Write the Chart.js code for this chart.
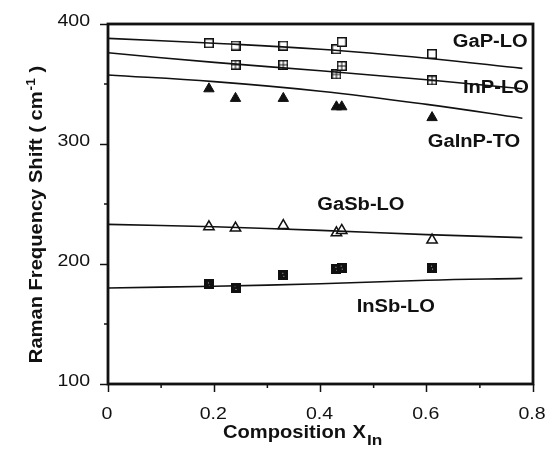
<!DOCTYPE html>
<html>
<head>
<meta charset="utf-8">
<script src="https://cdn.jsdelivr.net/npm/chart.js@4.4.1/dist/chart.umd.min.js"></script>
<style>
  html, body { margin: 0; padding: 0; background: #fff; }
  #wrap { width: 551px; height: 453px; }
</style>
</head>
<body>
<div id="wrap"><canvas id="ramanChart" width="551" height="453"></canvas></div>
<script>
// measured points (composition x, Raman shift in cm-1)
const gapX = [0.19, 0.24, 0.33, 0.43, 0.44, 0.61];
const gapY = [384, 382, 382, 379, 385, 375];
const inpX = [0.24, 0.33, 0.43, 0.44, 0.61];
const inpY = [366, 366, 358, 365, 353];
const gainpX = [0.19, 0.24, 0.33, 0.43, 0.44, 0.61];
const gainpY = [346, 338, 338, 331, 331, 322];
const gasbX = [0.19, 0.24, 0.33, 0.43, 0.44, 0.61];
const gasbY = [231, 230, 232, 226, 228, 220];
const insbX = [0.19, 0.24, 0.33, 0.43, 0.44, 0.61];
const insbY = [183, 180, 191, 196, 197, 197];

// calculated curves
const fitX = [0, 0.2, 0.4, 0.6, 0.78];
const gapFit = [388, 384, 379, 371.5, 363];
const inpFit = [376, 368, 361, 353.5, 346];
const gainpFit = [357.5, 352, 344, 333, 321.5];
const gasbFit = [233, 231, 228, 224.5, 222];
const insbFit = [180, 181.5, 183.5, 186.5, 188];

const seriesLabels = ["GaP-LO", "InP-LO", "GaInP-TO", "GaSb-LO", "InSb-LO"];
const xTicks = [0, 0.2, 0.4, 0.6, 0.8];
const yTicks = [100, 200, 300, 400];

const pts = (xs, ys) => xs.map((x, i) => ({ x: x, y: ys[i] }));

const FONT = "'Liberation Sans', Arial, sans-serif";
const STRETCH = 1.15;

// marker images
function makeMarker(kind) {
  const c = document.createElement("canvas");
  c.width = 10; c.height = 10;
  const g = c.getContext("2d");
  g.fillStyle = kind === "filled" ? "#111" : "#fff";
  g.fillRect(0.75, 0.75, 8.5, 8.5);
  g.strokeStyle = "#111";
  g.lineWidth = 1.5;
  g.strokeRect(0.75, 0.75, 8.5, 8.5);
  if (kind === "crossed") {
    g.lineWidth = 1;
    g.beginPath();
    g.moveTo(5, 1); g.lineTo(5, 9);
    g.moveTo(1, 5); g.lineTo(9, 5);
    g.stroke();
  }
  if (kind === "filled") {
    g.fillStyle = "#bbb";
    g.fillRect(4, 3, 1, 1);
    g.fillRect(5, 6, 1, 1);
  }
  return c;
}
const openSquare = makeMarker("open");
const crossSquare = makeMarker("crossed");
const fillSquare = makeMarker("filled");

function fitSet(ys) {
  return {
    data: pts(fitX, ys),
    showLine: true,
    borderColor: "#111",
    borderWidth: 1.6,
    pointRadius: 0,
    tension: 0.4,
    fill: false
  };
}

// text drawn a little wider than the font, like the printed original
function wideText(ctx, text, x, y, align, font) {
  ctx.save();
  ctx.font = font;
  ctx.textAlign = align;
  ctx.translate(x, y);
  ctx.scale(STRETCH, 1);
  ctx.fillText(text, 0, 0);
  ctx.restore();
}
function wideWidth(ctx, text, font) {
  ctx.font = font;
  return ctx.measureText(text).width * STRETCH;
}

// tick labels, axis titles, curve labels, minor ticks and frame
const decorations = {
  id: "decorations",
  afterDraw(chart) {
    const ctx = chart.ctx;
    const xs = chart.scales.x, ys = chart.scales.y;
    const a = chart.chartArea;
    ctx.save();
    ctx.strokeStyle = "#111";
    ctx.fillStyle = "#111";

    // minor ticks
    ctx.lineWidth = 1.5;
    ctx.beginPath();
    [0.1, 0.3, 0.5, 0.7].forEach(v => {
      const px = xs.getPixelForValue(v);
      ctx.moveTo(px, a.bottom); ctx.lineTo(px, a.bottom + 4);
    });
    [150, 250, 350].forEach(v => {
      const py = ys.getPixelForValue(v);
      ctx.moveTo(a.left, py); ctx.lineTo(a.left - 4, py);
    });
    ctx.stroke();

    // frame
    ctx.lineWidth = 2.8;
    ctx.strokeRect(a.left, a.top, a.right - a.left, a.bottom - a.top);

    // tick labels
    ctx.textBaseline = "middle";
    const tickFont = "17px " + FONT;
    yTicks.forEach(v => wideText(ctx, String(v), a.left - 18, ys.getPixelForValue(v) - 3, "right", tickFont));
    xTicks.forEach(v => wideText(ctx, String(v), xs.getPixelForValue(v) - 1, 414, "center", tickFont));

    // curve labels
    const labFont = "bold 17.5px " + FONT;
    const spots = [[0.649, 385], [0.668, 346.7], [0.602, 301.5], [0.394, 249], [0.468, 164]];
    seriesLabels.forEach((t, i) => {
      wideText(ctx, t, xs.getPixelForValue(spots[i][0]), ys.getPixelForValue(spots[i][1]), "left", labFont);
    });

    // x title
    ctx.textBaseline = "alphabetic";
    const big = "bold 17.5px " + FONT, small = "bold 15px " + FONT;
    const t0 = "Composition ";
    const w0 = wideWidth(ctx, t0, big);
    const wx = wideWidth(ctx, "X", big);
    wideText(ctx, t0, 223, 438, "left", big);
    wideText(ctx, "X", 223 + w0 + 1, 438, "left", big);
    wideText(ctx, "In", 223 + w0 + wx + 2, 445, "left", small);

    // y title
    ctx.translate(42, 215);
    ctx.rotate(-Math.PI / 2);
    const sup = "bold 12px " + FONT;
    const p1 = "Raman Frequency Shift ( cm", p3 = " )";
    const q1 = wideWidth(ctx, p1, big), q2 = wideWidth(ctx, "-1", sup), q3 = wideWidth(ctx, p3, big);
    const sx = -(q1 + q2 + q3) / 2;
    wideText(ctx, p1, sx, 0, "left", big);
    wideText(ctx, "-1", sx + q1 + 1, -7, "left", sup);
    wideText(ctx, p3, sx + q1 + q2 + 1, 0, "left", big);
    ctx.restore();
  }
};

const ctx = document.getElementById("ramanChart").getContext("2d");
new Chart(ctx, {
  type: "scatter",
  data: {
    datasets: [
      fitSet(gapFit), fitSet(inpFit), fitSet(gainpFit), fitSet(gasbFit), fitSet(insbFit),
      { data: pts(gapX, gapY), pointStyle: openSquare, pointRadius: 5 },
      { data: pts(inpX, inpY), pointStyle: crossSquare, pointRadius: 5 },
      { data: pts(gainpX, gainpY), pointStyle: "triangle", pointRadius: 6,
        backgroundColor: "#111", borderColor: "#111", borderWidth: 1 },
      { data: pts(gasbX, gasbY), pointStyle: "triangle", pointRadius: 6,
        backgroundColor: "#fff", borderColor: "#111", borderWidth: 1.5 },
      { data: pts(insbX, insbY), pointStyle: fillSquare, pointRadius: 5 }
    ]
  },
  options: {
    responsive: false,
    animation: false,
    events: [],
    layout: { padding: { top: 24, right: 18, left: 0, bottom: 0 } },
    plugins: { legend: { display: false }, tooltip: { enabled: false } },
    scales: {
      x: {
        type: "linear", min: 0, max: 0.8,
        afterBuildTicks: s => { s.ticks = xTicks.map(v => ({ value: v })); },
        afterFit: s => { s.height = 69; },
        border: { display: false },
        grid: { drawOnChartArea: false, tickLength: 8, tickColor: "#111", tickWidth: 1.5 },
        ticks: { display: false }
      },
      y: {
        type: "linear", min: 100, max: 400,
        afterBuildTicks: s => { s.ticks = yTicks.map(v => ({ value: v })); },
        afterFit: s => { s.width = 108; },
        border: { display: false },
        grid: { drawOnChartArea: false, tickLength: 8, tickColor: "#111", tickWidth: 1.5 },
        ticks: { display: false }
      }
    }
  },
  plugins: [decorations]
});
</script>
</body>
</html>
